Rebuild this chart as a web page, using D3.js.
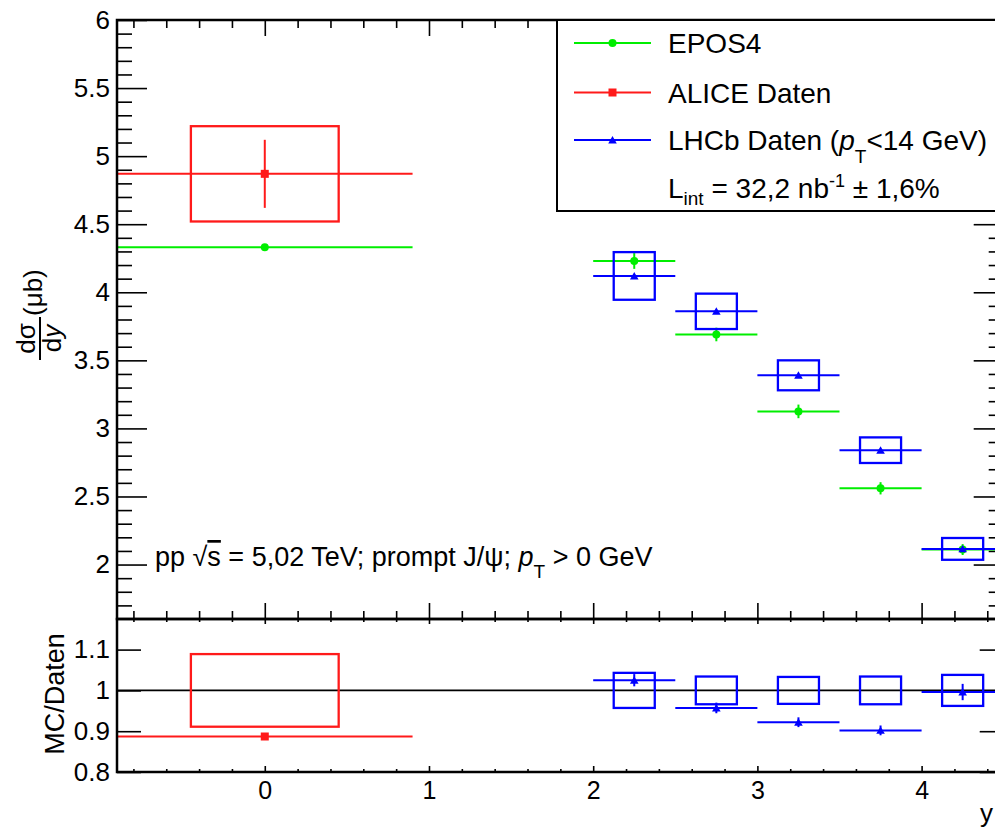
<!DOCTYPE html>
<html>
<head>
<meta charset="utf-8">
<script src="https://cdn.jsdelivr.net/npm/d3@7"></script>
<style>
  body { margin: 0; background: #fff; }
  svg { display: block; font-family: "Liberation Sans", Arial, sans-serif; }
</style>
</head>
<body>
<div id="chart"></div>
<script>
// values
const eposX = [0, 2.25, 2.75, 3.25, 3.75, 4.25];
const eposXErr = [0.9, 0.25, 0.25, 0.25, 0.25, 0.25];
const eposY = [4.33, 4.23, 3.69, 3.125, 2.56, 2.11];
const eposErr = [0.01, 0.058, 0.05, 0.05, 0.045, 0.04];

const aliceX = [0];
const aliceXErr = [0.9];
const aliceY = [4.87];
const aliceStat = [0.25];
const aliceSys = [0.35];

const lhcbX = [2.25, 2.75, 3.25, 3.75, 4.25];
const lhcbXErr = [0.25, 0.25, 0.25, 0.25, 0.25];
const lhcbY = [4.12, 3.86, 3.39, 2.84, 2.115];
const lhcbStat = [0.01, 0.01, 0.01, 0.01, 0.01];
const lhcbSys = [0.175, 0.13, 0.11, 0.094, 0.08];

// ratio MC / data
const aliceRatio = [0.887];
const aliceRatioSys = [0.089];
const lhcbRatio = [1.025, 0.957, 0.922, 0.902, 0.996];
const lhcbRatioErr = [0.015, 0.013, 0.012, 0.012, 0.02];
const lhcbRatioSys = [0.043, 0.034, 0.033, 0.034, 0.038];

const yTicksUp = [2, 2.5, 3, 3.5, 4, 4.5, 5, 5.5, 6];
const yTicksLow = [0.8, 0.9, 1, 1.1];
const xTicks = [0, 1, 2, 3, 4];

const width = 995, height = 831;
const left = 117, right = 1003.7;
const upTop = 20, upBottom = 619, lowBottom = 772;

const svg = d3.select("#chart").append("svg")
    .attr("width", width)
    .attr("height", height);

const x = d3.scaleLinear().domain([-0.9, 4.5]).range([left, right]);
const yUp = d3.scaleLinear().domain([1.6, 6]).range([upBottom, upTop]);
const yLow = d3.scaleLinear().domain([0.8, 1.175]).range([lowBottom, upBottom]);

const GREEN = "#00ee00", RED = "#ff1a1a", BLUE = "#0000ff";

const minorX = d3.range(-8, 45, 2).map(d => d / 10).filter(d => !xTicks.includes(d));
const minorYUp = d3.range(17, 61).map(d => d / 10).filter(d => !yTicksUp.includes(d));

function axisG(ax, tx, ty, size) {
    const g = svg.append("g")
        .attr("transform", `translate(${tx},${ty})`)
        .style("font-size", size + "px")
        .call(ax);
    g.select(".domain").remove();
    g.selectAll("line").attr("stroke", "#000").attr("stroke-width", 1.6);
    g.selectAll("text").attr("fill", "#000").attr("font-family", "Liberation Sans, Arial, sans-serif");
    return g;
}

// ---------- upper pad axes
axisG(d3.axisLeft(yUp).tickValues(yTicksUp).tickSize(-30).tickPadding(7).tickFormat(d3.format("")), left, 0, 26);
axisG(d3.axisLeft(yUp).tickValues(minorYUp).tickSize(-15).tickFormat(""), left, 0, 10);
axisG(d3.axisRight(yUp).tickValues(yTicksUp).tickSize(-30).tickFormat(""), right, 0, 10);
axisG(d3.axisRight(yUp).tickValues(minorYUp).tickSize(-15).tickFormat(""), right, 0, 10);
axisG(d3.axisBottom(x).tickValues(xTicks).tickSize(-16).tickFormat(""), 0, upBottom, 10);
axisG(d3.axisBottom(x).tickValues(minorX).tickSize(-8).tickFormat(""), 0, upBottom, 10);
axisG(d3.axisTop(x).tickValues(xTicks).tickSize(-16).tickFormat(""), 0, upTop, 10);
axisG(d3.axisTop(x).tickValues(minorX).tickSize(-8).tickFormat(""), 0, upTop, 10);

// ---------- lower pad axes
axisG(d3.axisLeft(yLow).tickValues(yTicksLow).tickSize(-24).tickPadding(7).tickFormat(d3.format("")), left, 0, 26);
axisG(d3.axisRight(yLow).tickValues(yTicksLow).tickSize(-24).tickFormat(""), right, 0, 10);
axisG(d3.axisBottom(x).tickValues(xTicks).tickSize(-6).tickPadding(9).tickFormat(d3.format("d")), 0, lowBottom, 25);
axisG(d3.axisBottom(x).tickValues(minorX).tickSize(-3).tickFormat(""), 0, lowBottom, 10);
axisG(d3.axisTop(x).tickValues(xTicks).tickSize(-5).tickFormat(""), 0, upBottom, 10);
axisG(d3.axisTop(x).tickValues(minorX).tickSize(-3).tickFormat(""), 0, upBottom, 10);

// ---------- upper pad data
const up = svg.append("g");

function hLine(g, xc, xe, yv, ys, color) {
    g.append("line")
        .attr("x1", x(xc - xe)).attr("x2", x(xc + xe))
        .attr("y1", ys(yv)).attr("y2", ys(yv))
        .attr("stroke", color).attr("stroke-width", 2);
}
function vLine(g, xc, yv, e, ys, color) {
    g.append("line")
        .attr("x1", x(xc)).attr("x2", x(xc))
        .attr("y1", ys(yv - e)).attr("y2", ys(yv + e))
        .attr("stroke", color).attr("stroke-width", 2);
}
function sysBox(g, xc, hw, yv, e, ys, color) {
    g.append("rect")
        .attr("x", x(xc - hw)).attr("width", x(xc + hw) - x(xc - hw))
        .attr("y", ys(yv + e)).attr("height", ys(yv - e) - ys(yv + e))
        .attr("fill", "none").attr("stroke", color).attr("stroke-width", 2.3);
}
function marker(g, kind, xc, yv, ys, color) {
    if (kind === "circle") {
        g.append("circle").attr("cx", x(xc)).attr("cy", ys(yv)).attr("r", 4).attr("fill", color);
    } else if (kind === "square") {
        g.append("rect").attr("x", x(xc) - 4).attr("y", ys(yv) - 4)
            .attr("width", 8).attr("height", 8).attr("fill", color);
    } else {
        g.append("path").attr("d", d3.symbol(d3.symbolTriangle).size(32)())
            .attr("transform", `translate(${x(xc)},${ys(yv) + 1})`).attr("fill", color);
    }
}

// EPOS4
eposX.forEach((xc, i) => {
    hLine(up, xc, eposXErr[i], eposY[i], yUp, GREEN);
    vLine(up, xc, eposY[i], eposErr[i], yUp, GREEN);
    marker(up, "circle", xc, eposY[i], yUp, GREEN);
});
// ALICE
aliceX.forEach((xc, i) => {
    sysBox(up, xc, 0.45, aliceY[i], aliceSys[i], yUp, RED);
    hLine(up, xc, aliceXErr[i], aliceY[i], yUp, RED);
    vLine(up, xc, aliceY[i], aliceStat[i], yUp, RED);
    marker(up, "square", xc, aliceY[i], yUp, RED);
});
// LHCb
lhcbX.forEach((xc, i) => {
    sysBox(up, xc, 0.125, lhcbY[i], lhcbSys[i], yUp, BLUE);
    hLine(up, xc, lhcbXErr[i], lhcbY[i], yUp, BLUE);
    vLine(up, xc, lhcbY[i], lhcbStat[i], yUp, BLUE);
    marker(up, "triangle", xc, lhcbY[i], yUp, BLUE);
});

// ---------- lower pad data
const low = svg.append("g");
low.append("line")
    .attr("x1", x(-0.9)).attr("x2", x(4.5))
    .attr("y1", yLow(1)).attr("y2", yLow(1))
    .attr("stroke", "#000").attr("stroke-width", 1.8);

aliceX.forEach((xc, i) => {
    sysBox(low, xc, 0.45, 1, aliceRatioSys[i], yLow, RED);
    hLine(low, xc, aliceXErr[i], aliceRatio[i], yLow, RED);
    marker(low, "square", xc, aliceRatio[i], yLow, RED);
});
lhcbX.forEach((xc, i) => {
    sysBox(low, xc, 0.125, 1, lhcbRatioSys[i], yLow, BLUE);
    hLine(low, xc, lhcbXErr[i], lhcbRatio[i], yLow, BLUE);
    vLine(low, xc, lhcbRatio[i], lhcbRatioErr[i], yLow, BLUE);
    marker(low, "triangle", xc, lhcbRatio[i], yLow, BLUE);
});

// ---------- frames
svg.append("rect").attr("x", left).attr("y", upTop)
    .attr("width", right - left).attr("height", upBottom - upTop)
    .attr("fill", "none").attr("stroke", "#000").attr("stroke-width", 2.5);
svg.append("rect").attr("x", left).attr("y", upBottom)
    .attr("width", right - left).attr("height", lowBottom - upBottom)
    .attr("fill", "none").attr("stroke", "#000").attr("stroke-width", 2.5);

// ---------- legend
const leg = svg.append("g");
leg.append("rect").attr("x", 557).attr("y", 20).attr("width", 460).attr("height", 191)
    .attr("fill", "#fff").attr("stroke", "#000").attr("stroke-width", 2);

const legItems = [
    { label: "EPOS4", color: GREEN, kind: "circle", y: 43 },
    { label: "ALICE Daten", color: RED, kind: "square", y: 92.5 },
    { label: "LHCb Daten", color: BLUE, kind: "triangle", y: 140 }
];
const legX = d3.scaleLinear().domain([0, 1]).range([574, 651]);
legItems.forEach(d => {
    leg.append("line").attr("x1", legX(0)).attr("x2", legX(1))
        .attr("y1", d.y).attr("y2", d.y).attr("stroke", d.color).attr("stroke-width", 2);
    const mx = legX(0.5);
    if (d.kind === "circle") leg.append("circle").attr("cx", mx).attr("cy", d.y).attr("r", 4).attr("fill", d.color);
    else if (d.kind === "square") leg.append("rect").attr("x", mx - 4).attr("y", d.y - 4).attr("width", 8).attr("height", 8).attr("fill", d.color);
    else leg.append("path").attr("d", d3.symbol(d3.symbolTriangle).size(32)()).attr("transform", `translate(${mx},${d.y + 1})`).attr("fill", d.color);
    const t = leg.append("text").attr("x", 668).attr("y", d.y + 10).attr("font-size", 28);
    t.append("tspan").text(d.label);
    if (d.kind === "triangle") {
        t.append("tspan").text(" (");
        t.append("tspan").attr("font-style", "italic").text("p");
        t.append("tspan").attr("font-size", 19).attr("dy", 13).text("T");
        t.append("tspan").attr("dy", -13).text("<14 GeV)");
    }
});
const lum = leg.append("text").attr("x", 668).attr("y", 198).attr("font-size", 28);
lum.append("tspan").text("L");
lum.append("tspan").attr("font-size", 19).attr("dy", 7).text("int");
lum.append("tspan").attr("dy", -7).text(" = 32,2 nb");
lum.append("tspan").attr("font-size", 18).attr("dy", -11).text("-1");
lum.append("tspan").attr("dy", 11).text(" \u00b1 1,6%");

// ---------- annotation
const ann = svg.append("text").attr("x", 155).attr("y", 566).attr("font-size", 27);
ann.append("tspan").text("pp  \u221a");
ann.append("tspan").attr("text-decoration", "overline").text("s");
ann.append("tspan").text(" = 5,02 TeV; prompt J/\u03c8; ");
ann.append("tspan").attr("font-style", "italic").text("p");
ann.append("tspan").attr("font-size", 19).attr("dy", 12).text("T");
ann.append("tspan").attr("dy", -12).text(" > 0 GeV");

// ---------- axis titles
const yt = svg.append("g").attr("transform", "translate(40,360) rotate(-90)").attr("font-size", 26);
yt.append("line").attr("x1", 0).attr("x2", 43).attr("y1", 0).attr("y2", 0).attr("stroke", "#000").attr("stroke-width", 2);
yt.append("text").attr("x", 21.5).attr("y", -5).attr("text-anchor", "middle").text("d\u03c3");
yt.append("text").attr("x", 21.5).attr("y", 21).attr("text-anchor", "middle")
    .html('d<tspan font-style="italic">y</tspan>');
yt.append("text").attr("x", 44).attr("y", 2).text("(\u03bcb)");

svg.append("text").attr("transform", "translate(64,694) rotate(-90)")
    .attr("text-anchor", "middle").attr("font-size", 27).text("MC/Daten");

svg.append("text").attr("x", 993).attr("y", 822).attr("text-anchor", "end")
    .attr("font-size", 26).text("y");
</script>
</body>
</html>
